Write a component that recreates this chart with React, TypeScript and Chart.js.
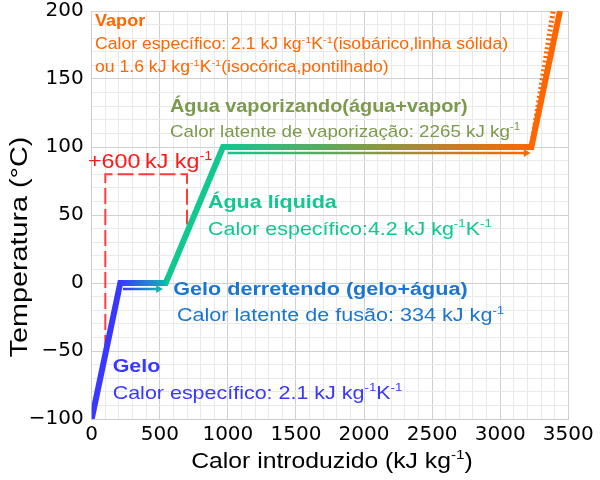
import { useEffect, useRef } from 'react';
import { Chart, registerables } from 'chart.js';

Chart.register(...registerables);

// ---- data ----
const xTickValues = [0, 500, 1000, 1500, 2000, 2500, 3000, 3500];
const yTickValues = [-100, -50, 0, 50, 100, 150, 200];
const heatX = [0, 210, 544, 964, 3229, 3439];
const heatT = [-100, 0, 0, 100, 100, 200];
const isochoricX = [3229, 3389];
const isochoricT = [100, 200];
const meltArrowX = [230, 490];
const meltArrowT = [-4.5, -4.5];
const vapArrowX = [1000, 3190];
const vapArrowT = [95.5, 95.5];
const bracketX = [100, 100, 700, 700];
const bracketT = [-50, 80, 80, 43];

type Run = { t: string; sup?: boolean };
type Note = { x: number; y: number; size: number; bold?: boolean; color: string; runs: Run[] };

const ORANGE = '#ff6600';
const OLIVE = '#7b9a4c';
const LIQ = '#0fc892';
const MELT = '#1a76d0';
const ICE = '#3838ff';

const notes: Note[] = [
  { x: 24, y: 189, size: 16, bold: true, color: ORANGE, runs: [{ t: 'Vapor' }] },
  { x: 24, y: 171.7, size: 15.6, color: ORANGE, runs: [{ t: 'Calor específico: 2.1 kJ kg' }, { t: '-1', sup: true }, { t: 'K' }, { t: '-1', sup: true }, { t: '(isobárico,linha sólida)' }] },
  { x: 24, y: 154.8, size: 15.6, color: ORANGE, runs: [{ t: 'ou 1.6 kJ kg' }, { t: '-1', sup: true }, { t: 'K' }, { t: '-1', sup: true }, { t: '(isocórica,pontilhado)' }] },
  { x: 575, y: 125.7, size: 17.6, bold: true, color: OLIVE, runs: [{ t: 'Água vaporizando(água+vapor)' }] },
  { x: 575, y: 107.7, size: 16.6, color: OLIVE, runs: [{ t: 'Calor latente de vaporização: 2265 kJ kg' }, { t: '-1', sup: true }] },
  { x: -27, y: 84.6, size: 20.6, color: '#ff1a1a', runs: [{ t: '+600\u2009kJ kg' }, { t: '-1', sup: true }] },
  { x: 854, y: 54.8, size: 19, bold: true, color: LIQ, runs: [{ t: 'Água líquida' }] },
  { x: 854, y: 35.3, size: 19, color: LIQ, runs: [{ t: 'Calor específico:4.2 kJ kg' }, { t: '-1', sup: true }, { t: 'K' }, { t: '-1', sup: true }] },
  { x: 599, y: -8.8, size: 19.1, bold: true, color: MELT, runs: [{ t: 'Gelo derretendo (gelo+água)' }] },
  { x: 626, y: -28.3, size: 19.1, color: MELT, runs: [{ t: 'Calor latente de fusão: 334 kJ kg' }, { t: '-1', sup: true }] },
  { x: 154, y: -65.4, size: 19, bold: true, color: ICE, runs: [{ t: 'Gelo' }] },
  { x: 154, y: -85.3, size: 19, color: ICE, runs: [{ t: 'Calor específico: 2.1 kJ kg' }, { t: '-1', sup: true }, { t: 'K' }, { t: '-1', sup: true }] },
];

const xTitleRuns: Run[] = [{ t: 'Calor introduzido (kJ kg' }, { t: '-1', sup: true }, { t: ')' }];
const yTitleRuns: Run[] = [{ t: 'Temperatura (°C)' }];

const STRETCH = 1.13;
const FONT = '"Liberation Sans", Arial, sans-serif';

function drawRuns(
  ctx: CanvasRenderingContext2D,
  runs: Run[],
  px: number,
  py: number,
  size: number,
  bold: boolean,
  color: string,
  sx: number,
  rotate = 0,
  align: 'left' | 'center' = 'left'
) {
  ctx.save();
  ctx.translate(px, py);
  if (rotate) ctx.rotate(rotate);
  ctx.scale(sx, 1);
  ctx.fillStyle = color;
  ctx.textBaseline = 'alphabetic';
  ctx.textAlign = 'left';
  const fontFor = (r: Run) => `${bold ? 'bold ' : ''}${r.sup ? size * 0.62 : size}px ${FONT}`;
  let total = 0;
  for (const r of runs) {
    ctx.font = fontFor(r);
    total += ctx.measureText(r.t).width;
  }
  let cx = align === 'center' ? -total / 2 : 0;
  for (const r of runs) {
    ctx.font = fontFor(r);
    ctx.fillText(r.t, cx, r.sup ? -size * 0.4 : 0);
    cx += ctx.measureText(r.t).width;
  }
  ctx.restore();
}

const notesPlugin = {
  id: 'notes',
  afterDatasetsDraw(chart: any) {
    const { ctx, chartArea, scales } = chart;
    const xs = scales.x;
    const ys = scales.y;
    for (const n of notes) {
      drawRuns(ctx, n.runs, xs.getPixelForValue(n.x), ys.getPixelForValue(n.y), n.size, !!n.bold, n.color, STRETCH);
    }
    const midX = (chartArea.left + chartArea.right) / 2;
    const midY = (chartArea.top + chartArea.bottom) / 2;
    drawRuns(ctx, xTitleRuns, midX + 2, chartArea.bottom + 49, 21.9, false, '#000', STRETCH, 0, 'center');
    drawRuns(ctx, yTitleRuns, chartArea.left - 65, midY + 32, 23, false, '#000', 1.25, -Math.PI / 2, 'center');
  },
};

function hGradient(chart: any, fromV: number, toV: number, stops: [number, string][], fallback: string) {
  const { ctx, chartArea, scales } = chart;
  if (!chartArea || !scales.x) return fallback;
  const x0 = scales.x.getPixelForValue(fromV);
  const x1 = scales.x.getPixelForValue(toV);
  const g = ctx.createLinearGradient(x0, 0, x1, 0);
  for (const [v, c] of stops) g.addColorStop(Math.min(1, Math.max(0, (v - fromV) / (toV - fromV))), c);
  return g;
}

const toPts = (xs: number[], ys: number[]) => xs.map((x, i) => ({ x, y: ys[i] }));

export default function App() {
  const ref = useRef<HTMLCanvasElement | null>(null);
  useEffect(() => {
    document.body.style.margin = '0';
    const canvas = ref.current!;
    const chart = new Chart(canvas, {
      type: 'line',
      data: {
        datasets: [
          {
            data: toPts(heatX, heatT),
            borderWidth: 6,
            borderJoinStyle: 'miter',
            borderCapStyle: 'butt',
            pointRadius: 0,
            tension: 0,
            borderColor: (c: any) =>
              hGradient(c.chart, 0, 3500, [
                [0, ICE], [210, ICE], [544, '#14b4ae'], [548, '#10c890'], [964, '#10c890'], [3229, ORANGE], [3500, ORANGE],
              ], ICE),
          } as any,
          {
            data: toPts(isochoricX, isochoricT),
            borderWidth: 5,
            borderColor: ORANGE,
            borderDash: [2, 2.5],
            pointRadius: 0,
          },
          {
            data: toPts(meltArrowX, meltArrowT),
            borderWidth: 2.5,
            borderColor: (c: any) => hGradient(c.chart, 230, 500, [[230, ICE], [500, '#14b4ae']], ICE),
            pointRadius: [0, 4.5],
            pointStyle: 'triangle',
            rotation: 90,
            pointBackgroundColor: '#14b4ae',
            pointBorderWidth: 0,
          } as any,
          {
            data: toPts(vapArrowX, vapArrowT),
            borderWidth: 2.5,
            borderColor: (c: any) => hGradient(c.chart, 1000, 3200, [[1000, '#10c890'], [3200, ORANGE]], ORANGE),
            pointRadius: [0, 4.5],
            pointStyle: 'triangle',
            rotation: 90,
            pointBackgroundColor: ORANGE,
            pointBorderWidth: 0,
          } as any,
          {
            data: toPts(bracketX, bracketT),
            borderWidth: 2,
            borderColor: '#ff3b3b',
            borderDash: [16, 5],
            pointRadius: 0,
          },
        ],
      },
      options: {
        animation: false,
        responsive: false,
        events: [],
        layout: { padding: { top: 11, right: 31.7, left: 0, bottom: 0 } },
        plugins: { legend: { display: false }, tooltip: { enabled: false }, title: { display: false } },
        scales: {
          x: {
            type: 'linear',
            min: xTickValues[0],
            max: xTickValues[xTickValues.length - 1],
            afterFit: (s: any) => {
              s.height = 61;
              s.paddingLeft = 0;
              s.paddingRight = 0;
            },
            ticks: {
              stepSize: 100,
              autoSkip: false,
              maxRotation: 0,
              padding: 6,
              color: '#000',
              font: { family: '"DejaVu Sans", sans-serif', size: 20, lineHeight: 1 },
              callback: (v: any) => (xTickValues.includes(Number(v)) ? String(v) : ''),
            },
            grid: {
              drawTicks: false,
              color: (c: any) => (c.tick && xTickValues.includes(c.tick.value) ? '#d0d0d0' : '#e9e9e9'),
            },
            border: { color: '#cccccc' },
          },
          y: {
            type: 'linear',
            min: yTickValues[0],
            max: yTickValues[yTickValues.length - 1],
            afterFit: (s: any) => {
              s.width = 91.7;
              s.paddingTop = 0;
              s.paddingBottom = 0;
            },
            ticks: {
              stepSize: 10,
              autoSkip: false,
              padding: 8,
              color: '#000',
              font: { family: '"DejaVu Sans", sans-serif', size: 20, lineHeight: 1 },
              callback: (v: any) => {
                const n = Number(v);
                if (!yTickValues.includes(n)) return '';
                return n < 0 ? '\u2212' + String(-n) : String(n);
              },
            },
            grid: {
              drawTicks: false,
              color: (c: any) => (c.tick && yTickValues.includes(c.tick.value) ? '#d0d0d0' : '#e9e9e9'),
            },
            border: { color: '#cccccc' },
          },
        },
      } as any,
      plugins: [notesPlugin],
    });
    return () => chart.destroy();
  }, []);
  return (
    <div style={{ width: 600, height: 480 }}>
      <canvas ref={ref} width={600} height={480} style={{ display: 'block' }} />
    </div>
  );
}
